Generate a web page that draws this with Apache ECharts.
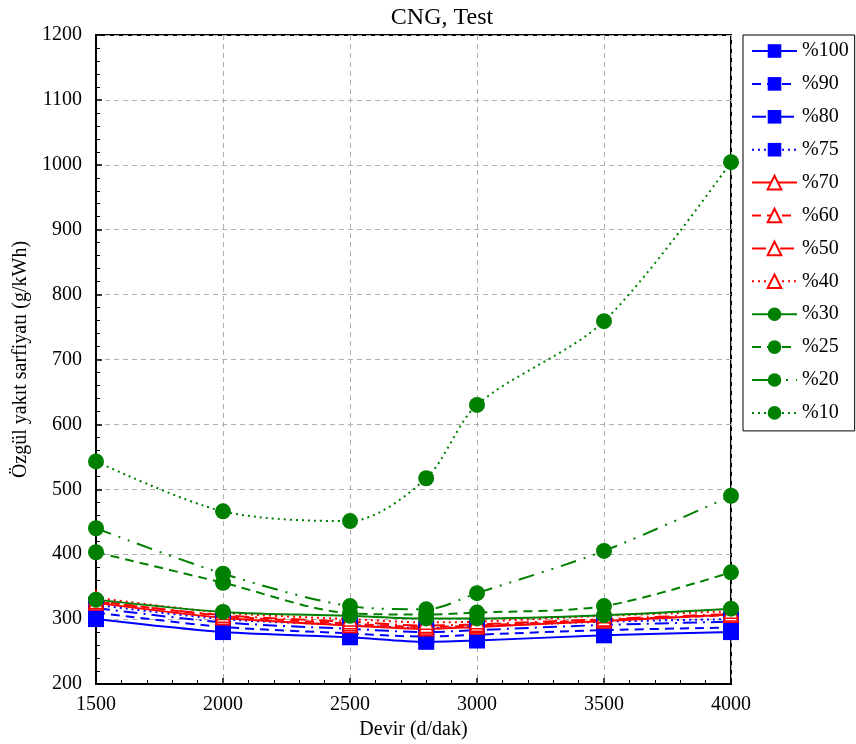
<!DOCTYPE html>
<html>
<head>
<meta charset="utf-8">
<script src="https://cdn.jsdelivr.net/npm/echarts@6/dist/echarts.min.js"></script>
<style>
  html, body { margin: 0; padding: 0; background: #fff; }
  #chart { width: 856px; height: 744px; }
</style>
</head>
<body>
<div id="chart"></div>
<script>
// Engine speed (d/dak) at which each load was measured
const rpm = [1500, 2000, 2500, 2800, 3000, 3500, 4000];

// Specific fuel consumption (g/kWh) per load level
const load100 = [300, 280, 272, 265, 267, 275, 280];
const load90  = [310, 288, 278, 273, 276, 283, 287];
const load80  = [317, 295, 285, 280, 283, 291, 296];
const load75  = [322, 300, 291, 286, 289, 296, 300];
const load70  = [325, 302, 290, 285, 288, 297, 307];
const load60  = [328, 305, 293, 288, 290, 299, 306];
const load50  = [327, 306, 296, 290, 292, 300, 308];
const load40  = [333, 310, 300, 295, 296, 305, 312];
const load30  = [330, 311, 305, 301, 301, 306, 316];
const load25  = [403, 356, 309, 307, 310, 320, 372];
const load20  = [440, 370, 320, 315, 340, 405, 490];
const load10  = [543, 466, 451, 517, 630, 759, 1004];

const seriesNames = ['%100', '%90', '%80', '%75', '%70', '%60', '%50', '%40', '%30', '%25', '%20', '%10'];
const seriesValues = [load100, load90, load80, load75, load70, load60, load50, load40, load30, load25, load20, load10];

const BLUE = '#0000FF', RED = '#FF0000', GREEN = '#008000';
const DASH = [9, 6];
const DASHDOT = [14, 6, 2, 6];
const DASHDOTDOT = [16, 8, 2, 8, 2, 8];
const DOT = [2, 4];

const styles = [
  { color: BLUE,  dash: 'solid',    symbol: 'rect' },
  { color: BLUE,  dash: DASH,       symbol: 'rect' },
  { color: BLUE,  dash: DASHDOT,    symbol: 'rect' },
  { color: BLUE,  dash: DOT,        symbol: 'rect' },
  { color: RED,   dash: 'solid',    symbol: 'triangle', hollow: true },
  { color: RED,   dash: DASH,       symbol: 'triangle', hollow: true },
  { color: RED,   dash: DASHDOT,    symbol: 'triangle', hollow: true },
  { color: RED,   dash: DOT,        symbol: 'triangle', hollow: true },
  { color: GREEN, dash: 'solid',    symbol: 'circle' },
  { color: GREEN, dash: DASH,       symbol: 'circle' },
  { color: GREEN, dash: DASHDOTDOT, symbol: 'circle' },
  { color: GREEN, dash: DOT,        symbol: 'circle' }
];

const serif = '"Liberation Serif", "DejaVu Serif", serif';

const series = seriesNames.map((name, i) => {
  const s = styles[i];
  return {
    name: name,
    type: 'line',
    smooth: 0.3,
    data: rpm.map((x, k) => [x, seriesValues[i][k]]),
    symbol: s.symbol,
    symbolSize: s.symbol === 'triangle' ? 14 : 16,
    lineStyle: { color: s.color, width: 2, type: s.dash },
    itemStyle: s.hollow
      ? { color: '#fff', borderColor: s.color, borderWidth: 1.5 }
      : { color: s.color, borderColor: s.color, borderWidth: 0 },
    emphasis: { disabled: true }
  };
});

const plain = v => String(v);

const chart = echarts.init(document.getElementById('chart'), null, { renderer: 'canvas' });
chart.setOption({
  animation: false,
  backgroundColor: '#fff',
  title: {
    text: 'CNG, Test',
    left: 437, textAlign: 'center', top: 1,
    textStyle: { fontFamily: serif, fontSize: 24, fontWeight: 'normal', color: '#000' }
  },
  grid: {
    left: 96, right: 125, top: 35, bottom: 60,
    outerBoundsMode: 'none',
    show: true, borderColor: '#000', borderWidth: 2, backgroundColor: 'transparent'
  },
  legend: {
    orient: 'vertical',
    left: 743, top: 35,
    padding: [6, 6, 8, 8],
    itemWidth: 45, itemHeight: 17, itemGap: 12.9,
    borderColor: '#000', borderWidth: 1, backgroundColor: '#fff',
    textStyle: { fontFamily: serif, fontSize: 20, color: '#000' },
    data: seriesNames
  },
  xAxis: {
    type: 'value',
    min: 1500, max: 4000, interval: 500,
    name: 'Devir (d/dak)', nameLocation: 'middle', nameGap: 35,
    nameTextStyle: { fontFamily: serif, fontSize: 20, color: '#000' },
    axisLine: { show: true, lineStyle: { color: '#000', width: 2 } },
    axisTick: { show: true, inside: true, length: 6, lineStyle: { color: '#000', width: 1.5 } },
    minorTick: { show: true, splitNumber: 5, length: 4, lineStyle: { color: '#000', width: 1 } },
    axisLabel: { fontFamily: serif, fontSize: 20, color: '#000', margin: 11, formatter: plain },
    splitLine: { show: true, lineStyle: { color: '#b0b0b0', type: [5, 4], width: 1 } }
  },
  yAxis: {
    type: 'value',
    min: 200, max: 1200, interval: 100,
    name: 'Özgül yakıt sarfiyatı (g/kWh)', nameLocation: 'middle', nameGap: 62,
    nameTextStyle: { fontFamily: serif, fontSize: 20, color: '#000' },
    axisLine: { show: true, lineStyle: { color: '#000', width: 2 } },
    axisTick: { show: true, inside: true, length: 6, lineStyle: { color: '#000', width: 1.5 } },
    minorTick: { show: true, splitNumber: 5, length: 4, lineStyle: { color: '#000', width: 1 } },
    axisLabel: { fontFamily: serif, fontSize: 20, color: '#000', margin: 14, formatter: plain },
    splitLine: { show: true, lineStyle: { color: '#b0b0b0', type: [5, 4], width: 1 } }
  },
  series: series
});
</script>
</body>
</html>
